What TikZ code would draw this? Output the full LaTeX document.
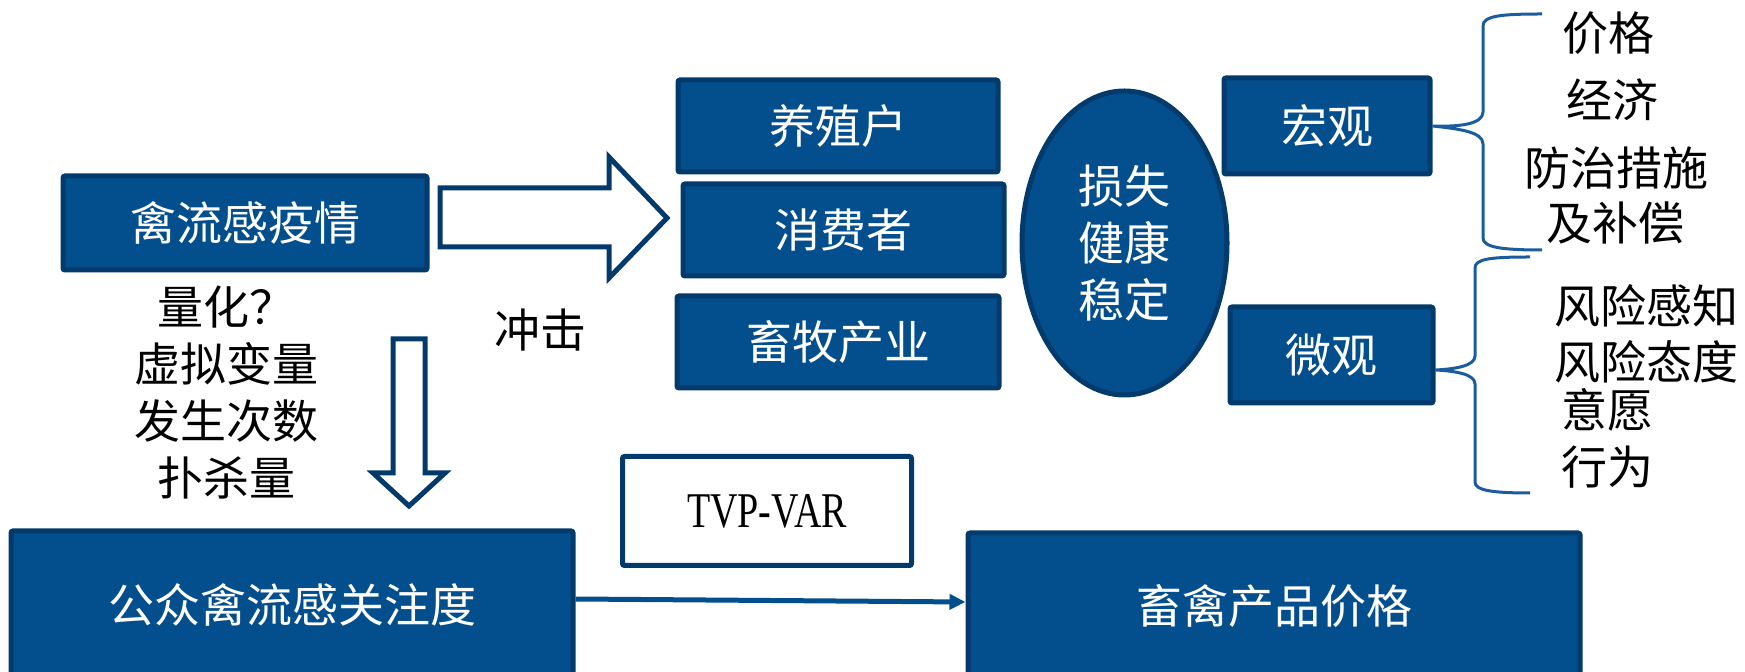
\documentclass[tikz,border=0pt]{standalone}
\usepackage{fontspec}
\usepackage{graphicx}
\newfontfamily\cjk{Noto Sans CJK SC}
\newfontfamily\tvpfont{Liberation Serif}
\usetikzlibrary{shapes.geometric,arrows.meta}
\definecolor{bfill}{HTML}{034E8D}
\definecolor{bline}{HTML}{033A6C}
\definecolor{bracecol}{HTML}{1A5C9E}
\tikzset{
 box/.style={draw=bline, fill=bfill, line width=2.5pt, text=white, font=\cjk\fontsize{23}{28.5}\selectfont, inner sep=0pt, rounded corners=1pt, align=center},
 plain/.style={font=\cjk\fontsize{23}{28.5}\selectfont, inner sep=0pt, text=black, align=center},
 hollow/.style={draw=bline, fill=white, line width=2.5pt, line join=miter},
 bracestyle/.style={draw=bracecol, line width=1.5pt},
}
\begin{document}
\begin{tikzpicture}[x=0.5pt,y=-0.5pt]
\useasboundingbox (0,0) rectangle (1745,672);
% boxes
\node[box, minimum width=182pt, minimum height=47pt] (flu) at (245,223) {禽流感疫情};
\node[box, minimum width=160pt, minimum height=46pt] (farm) at (838,126) {养殖户};
\node[box, minimum width=160.5pt, minimum height=46pt] (cons) at (843.5,230) {消费者};
\node[box, minimum width=161pt, minimum height=46pt] (ind) at (838,342) {畜牧产业};
\node[box, ellipse, minimum width=102.5pt, minimum height=152pt] (loss) at (1124.5,243) {损失\\健康\\稳定};
\node[box, minimum width=103pt, minimum height=48pt] (macro) at (1327,126) {宏观};
\node[box, minimum width=101.5pt, minimum height=48pt] (micro) at (1331.5,355) {微观};
\node[draw=bline, fill=white, line width=2.5pt, inner sep=0pt, rounded corners=1pt, minimum width=144.5pt, minimum height=54.5pt] (tvp) at (767,511) {\tvpfont\fontsize{25}{30}\selectfont\scalebox{0.76}[1]{TVP-VAR}};
\node[box, minimum width=281pt, minimum height=74pt] (pub) at (292,605) {公众禽流感关注度};
\node[box, minimum width=306pt, minimum height=73pt] (price) at (1274,606) {畜禽产品价格};
% hollow arrows
\draw[hollow] (440,188) -- (609,188) -- (609,157) -- (667,218) -- (609,278) -- (609,247) -- (440,247) -- cycle;
\draw[hollow] (393,339) -- (425,339) -- (425,473) -- (445,473) -- (409,506) -- (373,473) -- (393,473) -- cycle;
% labels
\node[plain] (quant) at (226,393) {量化？\\虚拟变量\\发生次数\\扑杀量};
\node[plain] (impact) at (540,330) {冲击};
% braces
\draw[bracestyle] (1542,14) .. controls (1500,14) and (1483,16) .. (1483,26) -- (1483,112) .. controls (1483,124) and (1460,127) .. (macro.east) .. controls (1460,129) and (1483,132) .. (1483,144) -- (1483,238) .. controls (1483,247) and (1500,250) .. (1542,250);
\draw[bracestyle] (1530,257) .. controls (1490,257) and (1475,259) .. (1475,268) -- (1475,356) .. controls (1475,366) and (1455,369) .. ([yshift=-7.5pt]micro.east) .. controls (1455,371) and (1475,374) .. (1475,384) -- (1475,482) .. controls (1475,490) and (1490,493) .. (1530,493);
% right texts
\node[plain] (t1) at (1608,33) {价格};
\node[plain] (t2) at (1612,100) {经济};
\node[plain] (t3) at (1616,168) {防治措施};
\node[plain] (t4) at (1615,223) {及补偿};
\node[plain, anchor=west] (t5) at (1554,306) {风险感知};
\node[plain, anchor=west] (t6) at (1554,362) {风险态度};
\node[plain, anchor=west] (t7) at (1561,410) {意愿};
\node[plain, anchor=west] (t8) at (1561,467) {行为};
% arrow
\draw[draw=bfill, line width=2.5pt, -{Triangle[length=8pt,width=7.5pt]}] ([yshift=3pt]pub.east) -- ([yshift=2pt]price.west);
\end{tikzpicture}
\end{document}
